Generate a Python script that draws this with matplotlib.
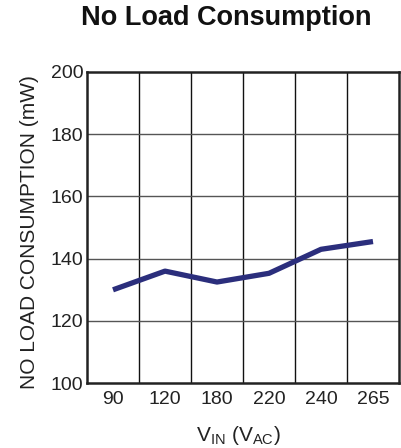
import matplotlib
matplotlib.use("Agg")
import matplotlib.pyplot as plt

categories = ["90", "120", "180", "220", "240", "265"]
consumption = [130, 136, 132.5, 135.3, 143, 145.5]
y_ticks = [100, 120, 140, 160, 180, 200]

plt.rcParams['font.family'] = ['Liberation Sans', 'DejaVu Sans']
plt.rcParams['mathtext.fontset'] = 'custom'
plt.rcParams['mathtext.rm'] = 'Liberation Sans'

W, H = 401, 448
fig = plt.figure(figsize=(W/100, H/100), dpi=100)
ax = fig.add_axes([87/W, 1-383.3/H, 312/W, 311.6/H])

x = list(range(len(categories)))
ax.plot(x, consumption, color='#2b2e7c', lw=3.8, solid_capstyle='butt', zorder=3)

ax.set_xlim(-0.5, len(categories) - 0.5)
ax.set_ylim(100, 200)
ax.set_yticks(y_ticks)
ax.set_yticklabels([str(v) for v in y_ticks])
ax.set_xticks(x)
ax.set_xticklabels(categories)

for xb in [i + 0.5 for i in range(len(categories) - 1)]:
    ax.axvline(xb, color='#111111', lw=1.0, zorder=1)
for yv in y_ticks[1:-1]:
    ax.axhline(yv, color='#555555', lw=1.0, zorder=1)

for s in ax.spines.values():
    s.set_linewidth(1.8)
    s.set_color('#222222')

ax.tick_params(axis='y', length=0, pad=2.5, labelsize=14, colors='#222222')
ax.tick_params(axis='x', length=0, pad=5.5, labelsize=14, colors='#222222')

fig.text(30/W, 1-232.5/H, 'NO LOAD CONSUMPTION (mW)', rotation=90,
         ha='center', va='center', fontsize=15, color='#222222')
fig.text(238/W, 1-441/H, r'V$_{\mathregular{IN}}$ (V$_{\mathregular{AC}}$)',
         ha='center', va='baseline', fontsize=15, color='#222222')

fig.text(226/W, 1-25/H, 'No Load Consumption', ha='center', va='baseline',
         fontsize=19.5, fontweight='bold', color='#111111')

fig.savefig('out.png', dpi=100)
